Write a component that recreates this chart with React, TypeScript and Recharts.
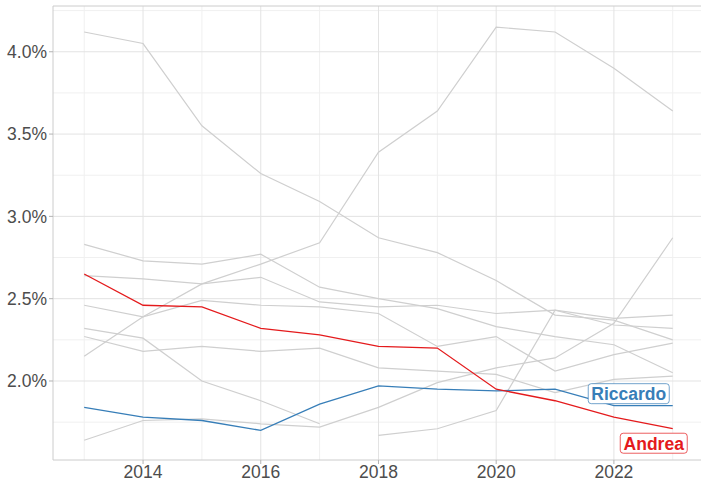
import { LineChart, Line, XAxis, YAxis, CartesianGrid, ReferenceLine, LabelList } from 'recharts';

// anni e quote (in %)
const years = [2013, 2014, 2015, 2016, 2017, 2018, 2019, 2020, 2021, 2022, 2023];

const andrea = [2.65, 2.46, 2.45, 2.32, 2.28, 2.21, 2.2, 1.95, 1.88, 1.78, 1.71];
const riccardo = [1.84, 1.78, 1.76, 1.7, 1.86, 1.97, 1.95, 1.94, 1.95, 1.85, 1.85];

// altri nomi, disegnati in grigio
const altro1 = [4.12, 4.05, 3.55, 3.26, 3.09, 2.87, 2.78, 2.61, 2.4, 2.37, 2.25];
const altro2 = [2.15, 2.39, 2.59, 2.71, 2.84, 3.39, 3.64, 4.15, 4.12, 3.9, 3.64];
const altro3 = [2.83, 2.73, 2.71, 2.77, 2.57, 2.5, 2.44, 2.33, 2.27, 2.22, 2.05];
const altro4 = [2.64, 2.62, 2.59, 2.63, 2.48, 2.45, 2.46, 2.41, 2.43, 2.38, 2.4];
const altro5 = [2.46, 2.39, 2.49, 2.46, 2.45, 2.41, 2.21, 2.27, 2.06, 2.16, 2.23];
const altro6 = [2.32, 2.26, 2.0, 1.88, 1.74, null, null, null, null, null, null];
const altro7 = [2.27, 2.18, 2.21, 2.18, 2.2, 2.08, 2.06, 2.04, 1.93, 2.01, 2.03];
const altro8 = [1.64, 1.76, 1.77, 1.74, 1.72, 1.84, 1.99, 2.08, 2.14, 2.35, 2.87];
const altro9 = [null, null, null, null, null, 1.67, 1.71, 1.82, 2.43, 2.34, 2.32];

const greySeries = { altro1, altro2, altro3, altro4, altro5, altro6, altro7, altro8, altro9 };

const xTicks = [2014, 2016, 2018, 2020, 2022];
const yTicks = [2.0, 2.5, 3.0, 3.5, 4.0];
const xMinor = [2013, 2015, 2017, 2019, 2021, 2023];
const yMinor = [1.75, 2.25, 2.75, 3.25, 3.75, 4.25];

const data = years.map((year, i) => {
  const row: Record<string, number | null> = { year, Andrea: andrea[i], Riccardo: riccardo[i] };
  Object.entries(greySeries).forEach(([k, arr]) => {
    row[k] = arr[i];
  });
  return row;
});

const W = 701;
const H = 482;
const X_DOMAIN: [number, number] = [2012.47, 2023.48];
const Y_DOMAIN: [number, number] = [1.52, 4.278];
const FONT = '"Liberation Sans", Arial, sans-serif';

// etichetta in stile ggrepel sull'ultimo punto della serie
const makeLabel = (name: string, color: string, w: number, dx: number, dy: number) => (props: any) => {
  const { x, y, index } = props;
  if (index !== years.length - 1) return null;
  const h = 20;
  const cx = x + dx;
  const cy = y + dy;
  return (
    <g>
      <rect
        x={cx - w / 2}
        y={cy - h / 2}
        width={w}
        height={h}
        rx={3}
        fill="#ffffff"
        stroke={color}
        strokeOpacity={0.7}
        strokeWidth={1}
      />
      <text
        x={cx}
        y={cy}
        dy="0.36em"
        textAnchor="middle"
        fill={color}
        fontFamily={FONT}
        fontWeight="bold"
        fontSize={17.5}
      >
        {name}
      </text>
    </g>
  );
};

export default function App() {
  return (
    <div style={{ width: W, height: H }}>
      <style>{'body{margin:0}'}</style>
      <LineChart width={W} height={H} data={data} margin={{ top: 6, right: 0, left: 0, bottom: 0 }}>
        <CartesianGrid
          stroke="#f0f0f0"
          strokeWidth={1}
          verticalValues={xMinor}
          horizontalValues={yMinor}
        />
        <CartesianGrid
          stroke="#e3e3e3"
          strokeWidth={1}
          verticalValues={xTicks}
          horizontalValues={yTicks}
        />
        <XAxis
          dataKey="year"
          type="number"
          domain={X_DOMAIN}
          allowDataOverflow
          ticks={xTicks}
          height={22}
          tickSize={4}
          tickMargin={2}
          axisLine={{ stroke: '#cccccc' }}
          tickLine={{ stroke: '#b3b3b3' }}
          tick={{ fill: '#4d4d4d', fontSize: 17.5, fontFamily: FONT }}
        />
        <YAxis
          type="number"
          domain={Y_DOMAIN}
          allowDataOverflow
          ticks={yTicks}
          width={53}
          tickSize={4}
          tickMargin={2}
          axisLine={{ stroke: '#cccccc' }}
          tickLine={{ stroke: '#b3b3b3' }}
          tickFormatter={(v: number) => `${v.toFixed(1)}%`}
          tick={{ fill: '#4d4d4d', fontSize: 17.5, fontFamily: FONT }}
        />
        <ReferenceLine y={Y_DOMAIN[1]} stroke="#cccccc" ifOverflow="extendDomain" />
        {Object.keys(greySeries).map((k) => (
          <Line
            key={k}
            dataKey={k}
            type="linear"
            stroke="#cfcfcf"
            strokeWidth={1.2}
            dot={false}
            activeDot={false}
            isAnimationActive={false}
          />
        ))}
        <Line
          dataKey="Riccardo"
          type="linear"
          stroke="#377eb8"
          strokeWidth={1.3}
          dot={false}
          isAnimationActive={false}
        >
          <LabelList dataKey="Riccardo" content={makeLabel('Riccardo', '#377eb8', 81, -44, -12)} />
        </Line>
        <Line
          dataKey="Andrea"
          type="linear"
          stroke="#e41a1c"
          strokeWidth={1.3}
          dot={false}
          isAnimationActive={false}
        >
          <LabelList dataKey="Andrea" content={makeLabel('Andrea', '#e41a1c', 67, -19, 14.5)} />
        </Line>
      </LineChart>
    </div>
  );
}
